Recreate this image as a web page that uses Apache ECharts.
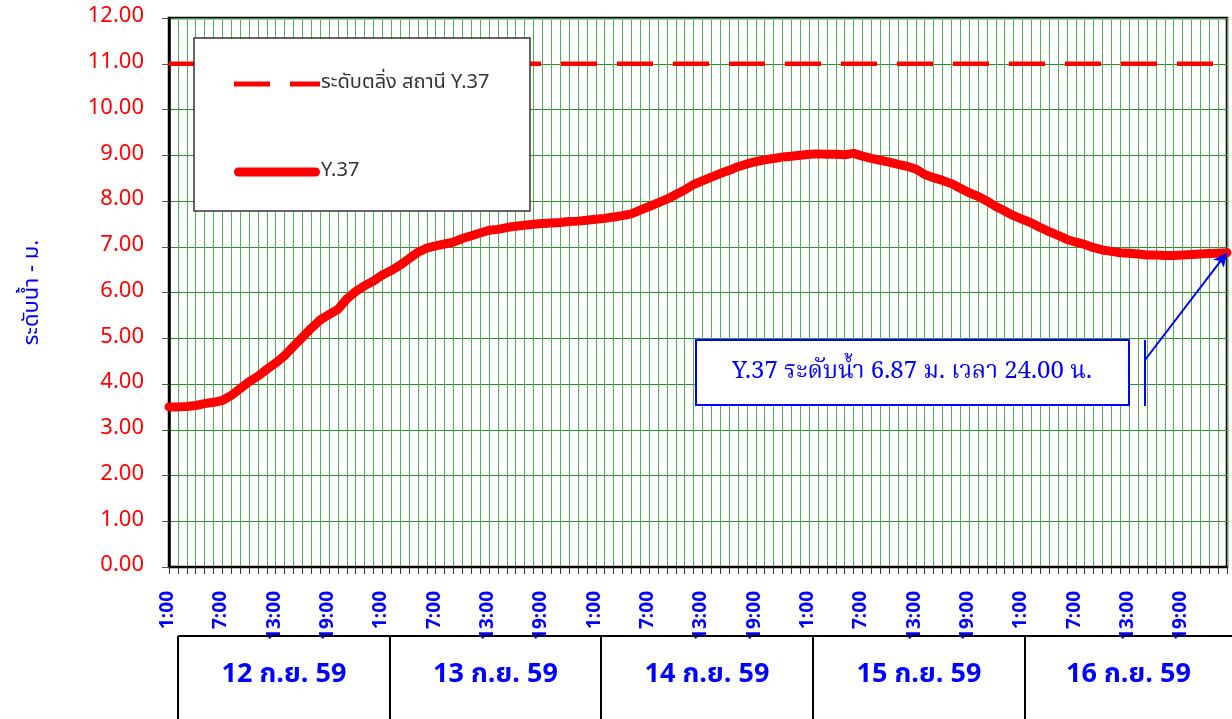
<!DOCTYPE html>
<html><head><meta charset="utf-8">
<script src="https://cdn.jsdelivr.net/npm/echarts@6/dist/echarts.min.js"></script>
<style>html,body{margin:0;padding:0;background:#fff}#c{width:1232px;height:719px}</style>
</head><body><div id="c"></div>
<script>
const days = ['12 ก.ย. 59', '13 ก.ย. 59', '14 ก.ย. 59', '15 ก.ย. 59', '16 ก.ย. 59'];
const hours = ['1:00','2:00','3:00','4:00','5:00','6:00','7:00','8:00','9:00','10:00','11:00','12:00',
  '13:00','14:00','15:00','16:00','17:00','18:00','19:00','20:00','21:00','22:00','23:00','24:00'];
const levelY37 = [
  3.50,3.50,3.51,3.53,3.57,3.60,3.64,3.75,3.90,4.05,4.17,4.32,4.46,4.62,4.82,5.02,5.22,5.40,5.52,5.63,5.86,6.02,6.15,6.25,
  6.38,6.48,6.60,6.74,6.88,6.97,7.02,7.06,7.10,7.18,7.24,7.30,7.36,7.38,7.42,7.45,7.47,7.49,7.51,7.52,7.53,7.55,7.56,7.58,
  7.60,7.62,7.65,7.68,7.72,7.80,7.88,7.96,8.04,8.14,8.24,8.36,8.44,8.52,8.60,8.67,8.75,8.81,8.86,8.90,8.93,8.96,8.98,9.00,
  9.02,9.03,9.02,9.02,9.01,9.04,8.98,8.93,8.89,8.85,8.80,8.76,8.70,8.58,8.51,8.45,8.38,8.28,8.18,8.10,8.00,7.88,7.78,7.68,
  7.60,7.52,7.42,7.33,7.25,7.16,7.10,7.05,6.98,6.93,6.90,6.87,6.86,6.84,6.82,6.82,6.81,6.81,6.82,6.83,6.84,6.85,6.86,6.87
];
const bankLevel = 11.00;
const bankName = 'ระดับตลิ่ง สถานี Y.37';
const seriesName = 'Y.37';
const yMin = 0, yMax = 12, yStep = 1;

const categories = [];
days.forEach(d => hours.forEach(h => categories.push(d + '|' + h)));
const bankData = categories.map(() => bankLevel);
const lastVal = levelY37[levelY37.length - 1];

const thai = '"Noto Sans Thai","Tahoma","DejaVu Sans","Noto Sans",sans-serif';
const serifThai = '"Noto Serif Thai","Liberation Serif","DejaVu Serif",serif';

const chart = echarts.init(document.getElementById('c'));
const dayLefts = [178, 390, 601, 813, 1025, 1232];
const graphics = [];
graphics.push({type:'line', shape:{x1:178,y1:636,x2:1232,y2:636}, style:{stroke:'#000',lineWidth:2}, z:10});
days.forEach((d, k) => {
  graphics.push({type:'line', shape:{x1:dayLefts[k],y1:636,x2:dayLefts[k],y2:719}, style:{stroke:'#000',lineWidth:2}, z:10});
  graphics.push({type:'text', x:(dayLefts[k]+dayLefts[k+1])/2, y:677,
    style:{text:d, fill:'#0000ff', font:'bold 27px '+thai, textAlign:'center', textVerticalAlign:'middle'}, z:10});
});
graphics.push({type:'rect', shape:{x:194,y:38,width:336,height:173}, style:{fill:'#fff',stroke:'#333',lineWidth:1.5}, z:20});
graphics.push({type:'rect', shape:{x:696,y:340,width:433,height:65}, style:{fill:'#fff',stroke:'#0000ff',lineWidth:2}, z:20});
graphics.push({type:'text', x:912, y:374,
  style:{text:'Y.37 ระดับน้ำ ' + lastVal.toFixed(2) + ' ม. เวลา 24.00 น.', fill:'#0000ff', font:'24px '+serifThai, textAlign:'center', textVerticalAlign:'middle'}, z:21});
graphics.push({type:'line', shape:{x1:1145,y1:340,x2:1145,y2:406}, style:{stroke:'#0000ff',lineWidth:2}, z:21});

const dashIcon = 'path://M0,0h36v5h-36z M56,0h30v5h-30z';
const solidIcon = 'path://M4,0h78a4,4 0 0 1 0,9h-78a4,4 0 0 1 0,-9z';

chart.setOption({
  animation: false,
  backgroundColor: '#fff',
  grid: {left:169, right:5, top:18, bottom:152, show:true, borderColor:'#000', borderWidth:2.5, backgroundColor:'transparent'},
  legend: {
    left: 229, top: 66, orient:'vertical', itemWidth: 86, itemHeight: 14, itemGap: 62, z: 30,
    textStyle: {color:'#333', fontSize:20, fontFamily: thai, lineHeight:24, padding:[2,0,0,-4]},
    data: [{name: bankName, icon: dashIcon}, {name: seriesName, icon: solidIcon}]
  },
  xAxis: {
    type:'category', data: categories, boundaryGap:false,
    axisLine:{show:true, lineStyle:{color:'#000', width:2}},
    axisTick:{show:true, interval:0, length:7, lineStyle:{color:'#333'}},
    axisLabel:{interval:5, rotate:90, color:'#0000ff', fontSize:19, fontWeight:'bold', fontFamily:thai, margin:24,
      formatter: v => v.split('|')[1]},
    splitLine:{show:true, interval:0, lineStyle:{color:'#55ad55', width:1}}
  },
  yAxis: {
    type:'value', min:yMin, max:yMax, interval:yStep,
    name:'ระดับน้ำ - ม.', nameLocation:'middle', nameGap:124, nameRotate:90,
    nameTextStyle:{color:'#0000ff', fontSize:22, fontFamily:thai},
    axisLine:{show:true, lineStyle:{color:'#000', width:2.5}},
    axisTick:{show:true, length:7, lineStyle:{color:'#555'}},
    axisLabel:{color:'#ff0000', fontSize:22, fontFamily:thai, margin:25, formatter: v => v.toFixed(2)},
    splitLine:{show:true, lineStyle:{color:'#2e8b2e', width:1}}
  },
  series: [
    {name: bankName, type:'line', data: bankData, showSymbol:false, symbol:'none', z:3,
     lineStyle:{color:'#ff0000', width:4.5, type:[36,20]}, itemStyle:{color:'#ff0000'}},
    {name: seriesName, type:'line', data: levelY37, showSymbol:false, symbol:'none', smooth:false, z:4,
     lineStyle:{color:'#ff0000', width:9, cap:'round', join:'round'}, itemStyle:{color:'#ff0000'},
     markLine:{silent:true, symbol:['none','arrow'], symbolSize:[10,14], animation:false,
       lineStyle:{color:'#0000ff', width:2, type:'solid'}, label:{show:false}, z:25,
       data:[[{x:1145, y:360}, {coord:[categories[categories.length-1], lastVal]}]]}}
  ],
  graphic: graphics
});
</script></body></html>
